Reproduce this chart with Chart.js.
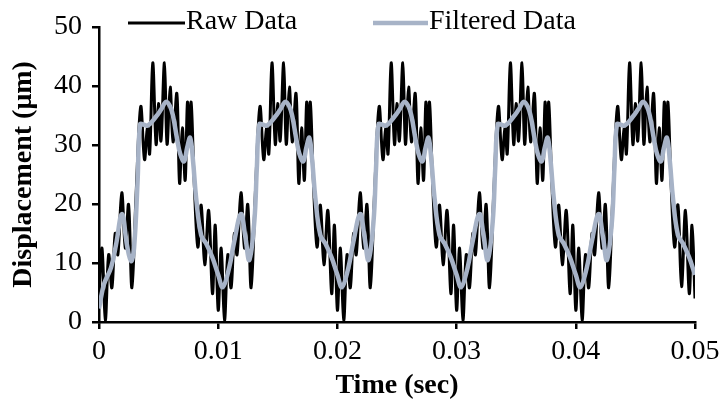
<!DOCTYPE html>
<html>
<head>
<meta charset="utf-8">
<script src="https://cdn.jsdelivr.net/npm/chart.js@4.4.1/dist/chart.umd.min.js"></script>
<style>
  html, body { margin: 0; padding: 0; background: #fff; }
  canvas { display: block; }
</style>
</head>
<body>
<canvas id="chart" width="720" height="404"></canvas>
<script>
// displacement samples, time in seconds
const rawTime = [
  0, 0.00025, 0.00053, 0.00081, 0.00108, 0.00136, 0.00158, 0.00191, 0.00221, 0.00248, 0.00276, 0.00311, 0.0035, 0.00382, 0.00406, 0.00425, 0.00451, 0.00479, 0.00499, 0.0052, 0.00549, 0.00571, 0.00597, 0.00621, 0.00653, 0.00676, 0.00699, 0.00723, 0.00742, 0.00758, 0.00773, 0.00798, 0.00829, 0.00857, 0.00887, 0.0092, 0.00952, 0.00975,
  0.01, 0.01025, 0.01053, 0.01081, 0.01108, 0.01136, 0.01158, 0.01191, 0.01221, 0.01248, 0.01276, 0.01311, 0.0135, 0.01382, 0.01406, 0.01425, 0.01451, 0.01479, 0.01499, 0.0152, 0.01549, 0.01571, 0.01597, 0.01621, 0.01653, 0.01676, 0.01699, 0.01723, 0.01742, 0.01758, 0.01773, 0.01798, 0.01829, 0.01857, 0.01887, 0.0192, 0.01952, 0.01975,
  0.02, 0.02025, 0.02053, 0.02081, 0.02108, 0.02136, 0.02158, 0.02191, 0.02221, 0.02248, 0.02276, 0.02311, 0.0235, 0.02382, 0.02406, 0.02425, 0.02451, 0.02479, 0.02499, 0.0252, 0.02549, 0.02571, 0.02597, 0.02621, 0.02653, 0.02676, 0.02699, 0.02723, 0.02742, 0.02758, 0.02773, 0.02798, 0.02829, 0.02857, 0.02887, 0.0292, 0.02952, 0.02975,
  0.03, 0.03025, 0.03053, 0.03081, 0.03108, 0.03136, 0.03158, 0.03191, 0.03221, 0.03248, 0.03276, 0.03311, 0.0335, 0.03382, 0.03406, 0.03425, 0.03451, 0.03479, 0.03499, 0.0352, 0.03549, 0.03571, 0.03597, 0.03621, 0.03653, 0.03676, 0.03699, 0.03723, 0.03742, 0.03758, 0.03773, 0.03798, 0.03829, 0.03857, 0.03887, 0.0392, 0.03952, 0.03975,
  0.04, 0.04025, 0.04053, 0.04081, 0.04108, 0.04136, 0.04158, 0.04191, 0.04221, 0.04248, 0.04276, 0.04311, 0.0435, 0.04382, 0.04406, 0.04425, 0.04451, 0.04479, 0.04499, 0.0452, 0.04549, 0.04571, 0.04597, 0.04621, 0.04653, 0.04676, 0.04699, 0.04723, 0.04742, 0.04758, 0.04773, 0.04798, 0.04829, 0.04857, 0.04887, 0.0492, 0.04952, 0.04975,
  0.05
];
const rawDisp = [
  4.0, 12.5, 0.3, 11.4, 5.8, 15.0, 11.4, 21.9, 12.5, 19.9, 5.8, 21.5, 36.5, 27.5, 32.9, 28.5, 43.9, 30.1, 37.0, 30.7, 43.9, 30.1, 39.8, 30.5, 38.7, 23.5, 32.9, 24.0, 37.2, 31.0, 37.2, 24.0, 12.7, 19.8, 9.7, 18.9, 4.8, 16.4,
  2.0, 12.5, 0.3, 11.4, 5.8, 15.0, 11.4, 21.9, 12.5, 19.9, 5.8, 21.5, 36.5, 27.5, 32.9, 28.5, 43.9, 30.1, 37.0, 30.7, 43.9, 30.1, 39.8, 30.5, 38.7, 23.5, 32.9, 24.0, 37.2, 31.0, 37.2, 24.0, 12.7, 19.8, 9.7, 18.9, 4.8, 16.4,
  2.0, 12.5, 0.3, 11.4, 5.8, 15.0, 11.4, 21.9, 12.5, 19.9, 5.8, 21.5, 36.5, 27.5, 32.9, 28.5, 43.9, 30.1, 37.0, 30.7, 43.9, 30.1, 39.8, 30.5, 38.7, 23.5, 32.9, 24.0, 37.2, 31.0, 37.2, 24.0, 12.7, 19.8, 9.7, 18.9, 4.8, 16.4,
  2.0, 12.5, 0.3, 11.4, 5.8, 15.0, 11.4, 21.9, 12.5, 19.9, 5.8, 21.5, 36.5, 27.5, 32.9, 28.5, 43.9, 30.1, 37.0, 30.7, 43.9, 30.1, 39.8, 30.5, 38.7, 23.5, 32.9, 24.0, 37.2, 31.0, 37.2, 24.0, 12.7, 19.8, 9.7, 18.9, 4.8, 16.4,
  2.0, 12.5, 0.3, 11.4, 5.8, 15.0, 11.4, 21.9, 12.5, 19.9, 5.8, 21.5, 36.5, 27.5, 32.9, 28.5, 43.9, 30.1, 37.0, 30.7, 43.9, 30.1, 39.8, 30.5, 38.7, 23.5, 32.9, 24.0, 37.2, 31.0, 37.2, 24.0, 12.7, 19.8, 6.0, 18.9, 4.8, 16.4,
  4.0
];

const filteredTime = [
  0, 0.00042, 0.00101, 0.00143, 0.00193, 0.00235, 0.00269, 0.00294, 0.00324, 0.00345, 0.00378, 0.00412, 0.00479, 0.00521, 0.00563, 0.00597, 0.00622, 0.00655, 0.00681, 0.00714, 0.00739, 0.00765, 0.0079, 0.00815, 0.00857, 0.00899, 0.0095,
  0.01, 0.01038, 0.01092, 0.01134, 0.01191, 0.01227, 0.01261, 0.01303, 0.01324, 0.01345, 0.01378, 0.01412, 0.01479, 0.01521, 0.01563, 0.01597, 0.01622, 0.01655, 0.01681, 0.01714, 0.01739, 0.01765, 0.0179, 0.01815, 0.01857, 0.01899, 0.0195,
  0.02, 0.02038, 0.02092, 0.02134, 0.02191, 0.02227, 0.02261, 0.02303, 0.02324, 0.02345, 0.02378, 0.02412, 0.02479, 0.02521, 0.02563, 0.02597, 0.02622, 0.02655, 0.02681, 0.02714, 0.02739, 0.02765, 0.0279, 0.02815, 0.02857, 0.02899, 0.0295,
  0.03, 0.03038, 0.03092, 0.03134, 0.03191, 0.03227, 0.03261, 0.03303, 0.03324, 0.03345, 0.03378, 0.03412, 0.03479, 0.03521, 0.03563, 0.03597, 0.03622, 0.03655, 0.03681, 0.03714, 0.03739, 0.03765, 0.0379, 0.03815, 0.03857, 0.03899, 0.0395,
  0.04, 0.04038, 0.04092, 0.04134, 0.04191, 0.04227, 0.04261, 0.04303, 0.04324, 0.04345, 0.04378, 0.04412, 0.04479, 0.04521, 0.04563, 0.04597, 0.04622, 0.04655, 0.04681, 0.04714, 0.04739, 0.04765, 0.0479, 0.04815, 0.04857, 0.04899, 0.0495,
  0.05
];
const filteredDisp = [
  2.3, 6.4, 9.2, 13.1, 18.3, 13.0, 10.3, 12.5, 24.0, 33.5, 33.4, 33.3, 34.8, 36.0, 37.3, 36.5, 34.8, 31.0, 28.5, 27.2, 29.5, 31.2, 27.0, 21.0, 14.7, 13.3, 11.0,
  8.0, 5.9, 9.2, 13.6, 18.3, 14.5, 10.5, 17.0, 26.0, 33.5, 33.4, 33.3, 34.8, 36.0, 37.3, 36.5, 34.8, 31.0, 28.5, 27.2, 29.5, 31.2, 27.0, 21.0, 14.7, 13.3, 11.0,
  8.0, 5.9, 9.2, 13.6, 18.3, 14.5, 10.5, 17.0, 26.0, 33.5, 33.4, 33.3, 34.8, 36.0, 37.3, 36.5, 34.8, 31.0, 28.5, 27.2, 29.5, 31.2, 27.0, 21.0, 14.7, 13.3, 11.0,
  8.0, 5.9, 9.2, 13.6, 18.3, 14.5, 10.5, 17.0, 26.0, 33.5, 33.4, 33.3, 34.8, 36.0, 37.3, 36.5, 34.8, 31.0, 28.5, 27.2, 29.5, 31.2, 27.0, 21.0, 14.7, 13.3, 11.0,
  8.0, 5.9, 9.2, 13.6, 18.3, 14.5, 10.5, 17.0, 26.0, 33.5, 33.4, 33.3, 34.8, 36.0, 37.3, 36.5, 34.8, 31.0, 28.5, 27.2, 29.5, 31.2, 27.0, 21.0, 14.7, 13.3, 11.0,
  8.0
];

const seriesNames = ['Raw Data', 'Filtered Data'];
const timeTicks = [0, 0.01, 0.02, 0.03, 0.04, 0.05];
const timeTickLabels = ['0', '0.01', '0.02', '0.03', '0.04', '0.05'];
const dispTicks = [0, 10, 20, 30, 40, 50];
const dispTickLabels = ['0', '10', '20', '30', '40', '50'];

const serif = "'Liberation Serif', 'Times New Roman', serif";
const fontSize = 28;
Chart.defaults.font.family = serif;
Chart.defaults.color = '#000';

const toPoints = (xs, ys) => xs.map((x, i) => ({x: x, y: ys[i]}));

// legend sits inside the plot, above the curves
const inlineLegend = {
  id: 'inlineLegend',
  afterDraw(chart) {
    const ctx = chart.ctx;
    const spots = [{x0: 128, x1: 185}, {x0: 373, x1: 428}];
    const y = 23;
    ctx.save();
    chart.data.datasets.forEach((ds, i) => {
      const s = spots[i];
      ctx.strokeStyle = ds.borderColor;
      ctx.lineWidth = ds.borderWidth;
      ctx.beginPath();
      ctx.moveTo(s.x0, y);
      ctx.lineTo(s.x1, y);
      ctx.stroke();
      ctx.fillStyle = '#000';
      ctx.font = fontSize + 'px ' + serif;
      ctx.textBaseline = 'middle';
      ctx.fillText(ds.label, s.x1 + 1, y - 1);
    });
    ctx.restore();
  }
};

const axisCommon = {
  type: 'linear',
  border: {display: true, color: '#000', width: 2.5},
  grid: {drawOnChartArea: false, drawTicks: true, tickLength: 7, color: '#000', lineWidth: 2.5}
};

new Chart(document.getElementById('chart'), {
  type: 'line',
  data: {
    datasets: [
      {
        label: seriesNames[0],
        data: toPoints(rawTime, rawDisp),
        borderColor: '#000000',
        borderWidth: 3,
        pointRadius: 0,
        tension: 0.35,
        order: 2
      },
      {
        label: seriesNames[1],
        data: toPoints(filteredTime, filteredDisp),
        borderColor: '#a7b3c7',
        borderWidth: 4.5,
        pointRadius: 0,
        tension: 0.4,
        order: 1
      }
    ]
  },
  options: {
    responsive: false,
    animation: false,
    layout: {padding: {top: 20, right: 25, left: 0, bottom: 0}},
    plugins: {
      legend: {display: false},
      tooltip: {enabled: false}
    },
    scales: {
      x: {
        ...axisCommon,
        min: 0,
        max: 0.05,
        afterBuildTicks: (scale) => { scale.ticks = timeTicks.map(v => ({value: v})); },
        afterFit: (scale) => {
          scale.height = 82;
          // let the last label hang into the right margin
          scale.paddingLeft = 0;
          scale.paddingRight = 0;
        },
        ticks: {
          font: {size: fontSize},
          padding: 6,
          maxRotation: 0,
          callback: (v, i) => timeTickLabels[i]
        },
        title: {
          display: true,
          text: 'Time (sec)',
          font: {size: fontSize, weight: 'bold'},
          padding: {top: 0, bottom: 1}
        }
      },
      y: {
        ...axisCommon,
        min: 0,
        max: 50,
        afterBuildTicks: (scale) => { scale.ticks = dispTicks.map(v => ({value: v})); },
        afterFit: (scale) => { scale.width = 99; },
        ticks: {
          font: {size: fontSize},
          padding: 10,
          callback: (v, i) => dispTickLabels[i]
        },
        title: {
          display: true,
          text: 'Displacement (μm)',
          font: {size: fontSize, weight: 'bold'},
          padding: {top: 7, bottom: 0}
        }
      }
    }
  },
  plugins: [inlineLegend]
});
</script>
</body>
</html>
